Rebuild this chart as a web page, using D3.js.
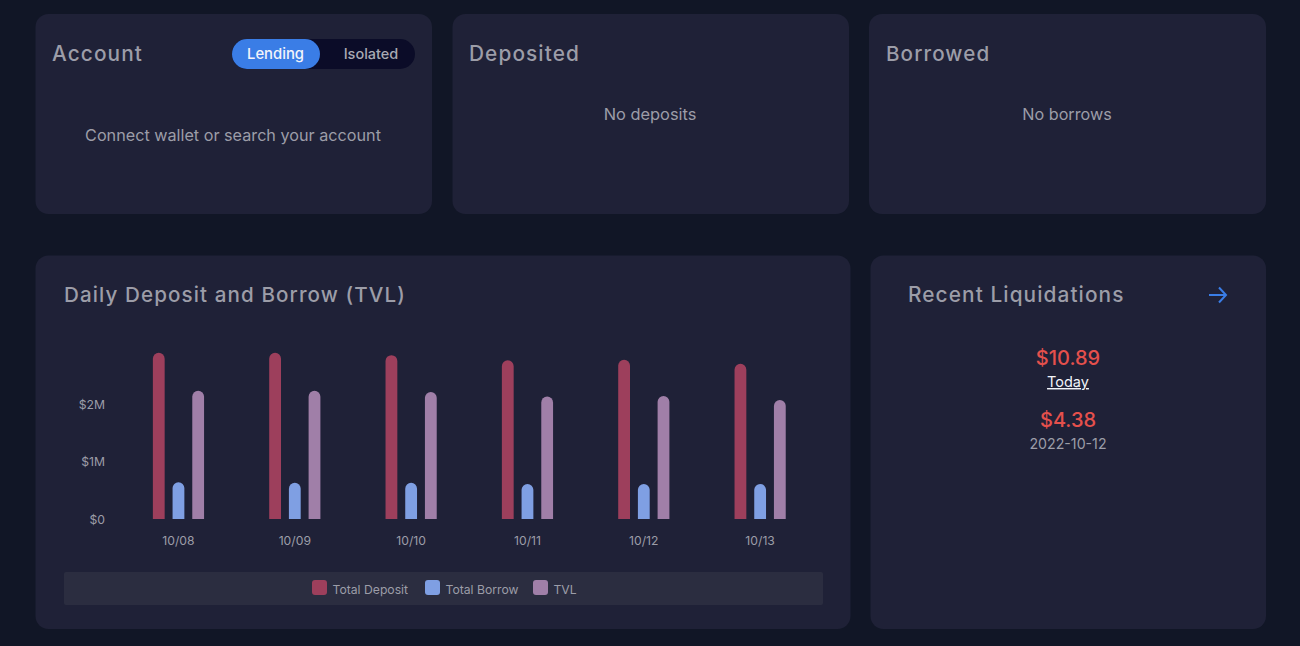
<!DOCTYPE html>
<html>
<head>
<meta charset="utf-8">
<script src="https://cdn.jsdelivr.net/npm/d3@7"></script>
<style>
  html, body { margin: 0; padding: 0; background: #111626; overflow: hidden; }
  svg { display: block; }
  text { font-family: Inter, "Noto Sans", sans-serif; }
  .axis path, .axis line { display: none; }
  .axis text { fill: #9c9da8; font-size: 12.2px; }
</style>
</head>
<body>
<div id="chart"></div>
<script>
const dates = ["10/08", "10/09", "10/10", "10/11", "10/12", "10/13"];
const seriesNames = ["Total Deposit", "Total Borrow", "TVL"];
const totalDeposit = [2.89, 2.89, 2.85, 2.76, 2.77, 2.70];
const totalBorrow = [0.64, 0.63, 0.63, 0.61, 0.61, 0.61];
const tvl = [2.23, 2.23, 2.21, 2.13, 2.14, 2.07];
const seriesColors = ["#9d3f5c", "#7f9fe3", "#a07fa8"];
const yTicks = [0, 1, 2];

const gray = "#9c9da8", panelFill = "#1f2137";

const svg = d3.select("#chart").append("svg").attr("width", 1300).attr("height", 646);

// panels
const panels = [[35.5, 14, 396.5, 200], [452.5, 14, 396.5, 200], [869, 14, 397, 200], [35.5, 255.5, 815, 373.5], [870.5, 255.5, 395.5, 373.5]];
svg.selectAll("rect.panel").data(panels).join("rect").attr("class", "panel")
  .attr("x", d => d[0]).attr("y", d => d[1]).attr("width", d => d[2]).attr("height", d => d[3])
  .attr("rx", 13).attr("fill", panelFill);

function label(txt, x, y, size, color, opts) {
  opts = opts || {};
  return svg.append("text").text(txt).attr("x", x).attr("y", y)
    .attr("font-size", size).attr("fill", color)
    .attr("font-weight", opts.weight || 400)
    .attr("letter-spacing", opts.spacing || 0)
    .attr("text-anchor", opts.anchor || "start");
}

// titles
const titleOpts = {weight: 500, spacing: 1.1};
label("Account", 52, 61, 20.8, gray, titleOpts);
label("Deposited", 469, 61, 20.8, gray, titleOpts);
label("Borrowed", 886, 61, 20.6, gray, titleOpts);
label("Daily Deposit and Borrow (TVL)", 64, 302, 20.6, gray, titleOpts);
label("Recent Liquidations", 908, 302, 20.8, gray, titleOpts);

// toggle
svg.append("rect").attr("x", 232).attr("y", 39).attr("width", 183).attr("height", 30).attr("rx", 15).attr("fill", "#0b0c28");
svg.append("rect").attr("x", 232).attr("y", 39).attr("width", 88).attr("height", 30).attr("rx", 15).attr("fill", "#3a7de6");
label("Lending", 275.5, 59, 14.8, "#f2f4fa", {weight: 500, anchor: "middle"});
label("Isolated", 371, 59, 14.5, "#a9aab4", {weight: 500, anchor: "middle"});

// empty states
label("Connect wallet or search your account", 233, 141, 16.2, gray, {anchor: "middle"});
label("No deposits", 650, 120, 16.4, gray, {anchor: "middle"});
label("No borrows", 1067, 120, 16.2, gray, {anchor: "middle"});

// arrow
svg.append("path").attr("d", "M1209 295H1226M1219 287.5L1226 295L1219 302.5")
  .attr("fill", "none").attr("stroke", "#3a7de6").attr("stroke-width", 2);

// liquidations
label("$10.89", 1068, 364.5, 20, "#e5504c", {weight: 500, anchor: "middle"});
label("Today", 1068, 387, 14.5, "#f2f4fa", {anchor: "middle"}).attr("text-decoration", "underline");
label("$4.38", 1068, 426.5, 20, "#e5504c", {weight: 500, anchor: "middle"});
label("2022-10-12", 1068, 449, 14.2, gray, {anchor: "middle"});

// chart
const x = d3.scaleBand().domain(dates).range([120.3, 818.3]);
const y = d3.scaleLinear().domain([0, 2]).range([519, 404]);
const barW = 11.8, barGap = 19.7;
const xSeries = d3.scalePoint().domain(seriesNames).range([-barGap, barGap]);

svg.append("g").attr("class", "axis").attr("transform", "translate(105,0.5)")
  .call(d3.axisLeft(y).tickValues(yTicks).tickSize(0).tickPadding(0).tickFormat(d => d === 0 ? "$0" : "$" + d + "M"));
svg.append("g").attr("class", "axis").attr("transform", "translate(0,536.5)")
  .call(d3.axisBottom(x).tickSize(0).tickPadding(0));

const seriesValues = [totalDeposit, totalBorrow, tvl];
function barPath(cx, top, bottom) {
  const r = barW / 2, l = cx - r, rgt = cx + r;
  return `M${l},${bottom}V${top + r}A${r},${r} 0 0 1 ${rgt},${top + r}V${bottom}Z`;
}
seriesNames.forEach((name, s) => {
  svg.append("g").selectAll("path").data(dates).join("path")
    .attr("fill", seriesColors[s])
    .attr("d", (d, i) => barPath(x(d) + x.bandwidth() / 2 + xSeries(name), y(seriesValues[s][i]), y(0)));
});

// legend
svg.append("rect").attr("x", 64).attr("y", 572).attr("width", 759).attr("height", 33).attr("rx", 2).attr("fill", "#2b2d40");
const legendX = [312, 425, 533];
seriesNames.forEach((name, s) => {
  svg.append("rect").attr("x", legendX[s]).attr("y", 580).attr("width", 15).attr("height", 15).attr("rx", 3).attr("fill", seriesColors[s]);
  label(name, legendX[s] + 20.5, 594, 12.2, gray);
});
</script>
</body>
</html>
